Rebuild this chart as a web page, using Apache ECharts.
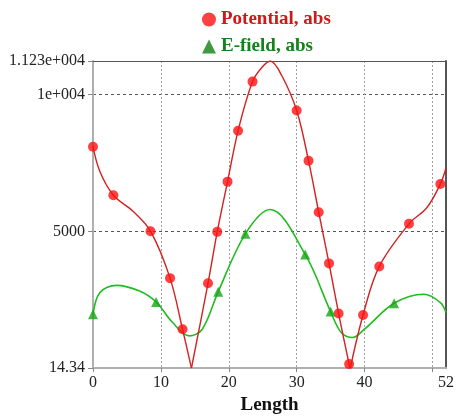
<!DOCTYPE html>
<html>
<head>
<meta charset="utf-8">
<script src="https://cdn.jsdelivr.net/npm/echarts@6/dist/echarts.min.js"></script>
<style>
  html, body { margin: 0; padding: 0; background: #fff; }
  #chart { width: 457px; height: 420px; }
</style>
</head>
<body>
<div id="chart"></div>
<script>
const fontFamily = "'Liberation Serif', 'Times New Roman', serif"
const redLine = '#d42020'
const redMark = '#ff1010'
const greenLine = '#22bb22'
const greenMark = '#14a814'

// axis ticks / labels
const xTickValues = [0, 10, 20, 30, 40, 50]
const xLabelValues = [0, 10, 20, 30, 40, 52]
const yTickValues = [14.34, 5000, 10000, 11230]
const yTickLabels = ['14.34', '5000', '1e+004', '1.123e+004']

// Potential, abs : markers
const potentialX = [0, 3, 8.47, 11.35, 13.19, 16.94, 18.3, 19.82, 21.37, 23.5, 30, 31.75, 33.25, 34.77, 36.18, 37.73, 39.78, 42.17, 46.55, 51.17]
const potentialY = [8099, 6325, 5014, 3300, 1434, 3110, 4990, 6824, 8681, 10477, 9420, 7589, 5706, 3838, 2006, 160, 1955, 3728, 5283, 6740]

// Potential, abs : curve, split at the two sharp minima
const potentialCurveA = [[0, 8099], [1, 7200], [3, 6325], [5.9, 5742], [8.47, 5014], [11.35, 3300], [13.19, 1434], [14.5, 14.34]]
const potentialCurveB = [[14.5, 14.34], [16.94, 3110], [18.3, 4990], [19.82, 6824], [21.37, 8681], [23.5, 10477], [24.9, 11000], [26.1, 11230], [27.8, 10700], [30, 9420], [31.75, 7589], [33.25, 5706], [34.77, 3838], [36.18, 2006], [37.73, 160], [37.9, 14.34]]
const potentialCurveC = [[37.9, 14.34], [39.78, 1955], [42.17, 3728], [46.55, 5283], [49.2, 5880], [51.17, 6740], [52, 7323]]

// E-field, abs : markers
const efieldX = [0, 9.3, 18.45, 22.45, 31.26, 35, 44.36]
const efieldY = [1980, 2428, 2807, 4919, 4165, 2079, 2381]

// E-field, abs : curve
const efieldCurve = [[0, 1980], [1, 2770], [3.46, 3037], [6.87, 2829], [9.3, 2428], [11.73, 1678], [14.17, 1190], [16.1, 1434], [18.45, 2807], [22.45, 4919], [26.1, 5804], [31.26, 4165], [35, 2079], [36.56, 1314], [38.27, 1132], [39.98, 1434], [44.36, 2381], [48.74, 2709], [51.17, 2407], [52, 2042]]

const zip = (xs, ys) => xs.map((x, i) => [x, ys[i]])

const curveDefault = {
  type: 'line',
  smooth: 0.35,
  showSymbol: false,
  silent: true,
  z: 2
}

const chart = echarts.init(document.getElementById('chart'))
chart.setOption({
  animation: false,
  legend: {
    orient: 'vertical',
    left: 197,
    top: 5,
    itemGap: 8,
    itemWidth: 14,
    itemHeight: 14,
    textStyle: { fontFamily, fontSize: 19, fontWeight: 'bold' },
    data: [
      { name: 'Potential, abs', icon: 'circle', itemStyle: { color: redMark }, textStyle: { color: '#d01818' } },
      { name: 'E-field, abs', icon: 'triangle', itemStyle: { color: '#0f7f0f' }, textStyle: { color: '#17801a' } }
    ]
  },
  grid: {
    left: 93,
    right: 8,
    top: 61,
    bottom: 51
  },
  xAxis: [
    {
      type: 'value',
      min: 0,
      max: 52,
      name: 'Length',
      nameLocation: 'middle',
      nameGap: 27,
      nameTextStyle: { fontFamily, fontSize: 19, fontWeight: 'bold', color: '#111' },
      axisLine: { onZero: false, lineStyle: { color: '#b0b0b0', width: 2 } },
      axisTick: { show: true, length: 4, customValues: xTickValues, lineStyle: { color: '#888' } },
      axisLabel: {
        customValues: xLabelValues,
        margin: 7,
        fontFamily,
        fontSize: 16,
        color: '#222'
      },
      splitLine: { show: true, lineStyle: { color: '#a0a0a0', type: [2, 2], width: 1 } }
    },
    {
      type: 'value',
      position: 'top',
      min: 0,
      max: 52,
      axisLine: { show: true, onZero: false, lineStyle: { color: '#555', width: 1 } },
      axisTick: { show: false },
      axisLabel: { show: false },
      splitLine: { show: false }
    }
  ],
  yAxis: [
    {
      type: 'value',
      min: 14.34,
      max: 11230,
      axisLine: { show: true, onZero: false, lineStyle: { color: '#b0b0b0', width: 2 } },
      axisTick: { show: true, length: 5, customValues: yTickValues, lineStyle: { color: '#888' } },
      axisLabel: {
        customValues: yTickValues,
        margin: 8,
        fontFamily,
        fontSize: 16,
        color: '#222',
        formatter: v => yTickLabels[yTickValues.indexOf(v)]
      },
      splitLine: { show: true, lineStyle: { color: '#555', type: [3, 3], width: 1 } }
    },
    {
      type: 'value',
      position: 'right',
      min: 14.34,
      max: 11230,
      axisLine: { show: true, onZero: false, lineStyle: { color: '#555', width: 2 } },
      axisTick: { show: false },
      axisLabel: { show: false },
      splitLine: { show: false }
    }
  ],
  series: [
    {
      name: 'Potential, abs',
      type: 'scatter',
      symbol: 'circle',
      symbolSize: 10,
      itemStyle: { color: redMark },
      data: zip(potentialX, potentialY),
      z: 4
    },
    {
      name: 'E-field, abs',
      type: 'scatter',
      symbol: 'triangle',
      symbolSize: 10,
      itemStyle: { color: greenMark },
      data: zip(efieldX, efieldY),
      z: 4
    },
    Object.assign({ name: 'E-field, abs', data: efieldCurve, lineStyle: { color: greenLine, width: 1.6 }, itemStyle: { color: greenLine } }, curveDefault),
    Object.assign({ name: 'Potential, abs', data: potentialCurveA, lineStyle: { color: redLine, width: 1.4 }, itemStyle: { color: redLine } }, curveDefault),
    Object.assign({ name: 'Potential, abs', data: potentialCurveB, lineStyle: { color: redLine, width: 1.4 }, itemStyle: { color: redLine } }, curveDefault),
    Object.assign({ name: 'Potential, abs', data: potentialCurveC, lineStyle: { color: redLine, width: 1.4 }, itemStyle: { color: redLine } }, curveDefault)
  ]
})
</script>
</body>
</html>
